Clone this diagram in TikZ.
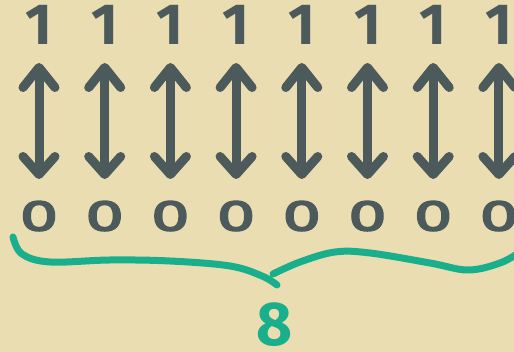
\documentclass[tikz,border=0pt]{standalone}
\usepackage{fontspec}
\setmainfont{Fira Sans}
\newfontfamily\zerofont[FakeStretch=1.6, FakeBold=4]{Fira Sans}
\usetikzlibrary{arrows.meta}

\definecolor{paper}{HTML}{E9DDB1}
\definecolor{ink}{HTML}{4D5A5B}
\definecolor{bracegreen}{HTML}{1AAF8C}

\tikzset{
  bit/.style={inner sep=0pt, text=ink, font=\bfseries\fontsize{58}{58}\selectfont},
  zerobit/.style={bit, font=\zerofont\fontsize{43}{43}\selectfont},
  flip/.style={ink, line width=9pt, line cap=round,
    {Straight Barb[length=20pt,width=32pt,round]}-{Straight Barb[length=18pt,width=32pt,round]}},
  brace/.style={bracegreen, line width=7pt, line cap=round, line join=round},
}

\begin{document}
\begin{tikzpicture}[x=1pt,y=1pt]
    \def\bits{8} % Number of bits
    \def\gap{65.7} % Space between columns

    \fill[paper] (0,0) rectangle (514,352);
    \useasboundingbox (0,0) rectangle (514,352);

    % Loop through each bit
    \foreach \i in {1,...,\bits} {
      \pgfmathsetmacro{\xpos}{39+(\i-1)*\gap} % Column position
      \node[bit, anchor=south] (one\i) at (\xpos,307) {1};
      \node[zerobit, anchor=north] (zero\i) at (\xpos,151) {0};
      \draw[flip, shorten <=18pt, shorten >=22pt] (one\i.south) -- (zero\i.north);
    }

    % Brace under the bits
    \draw[brace] plot[smooth, tension=0.6] coordinates {(13,115) (22,98) (50,90) (110,92) (170,91) (230,86) (262,76) (277,67)};
    \draw[brace] plot[smooth, tension=0.6] coordinates {(273,78) (300,90) (335,100) (370,99) (430,89) (468,82) (500,89) (520,100)};
    \node[bit, text=bracegreen, font=\bfseries\fontsize{62}{62}\selectfont] (count) at (275,27) {8};
  \end{tikzpicture}
\end{document}
